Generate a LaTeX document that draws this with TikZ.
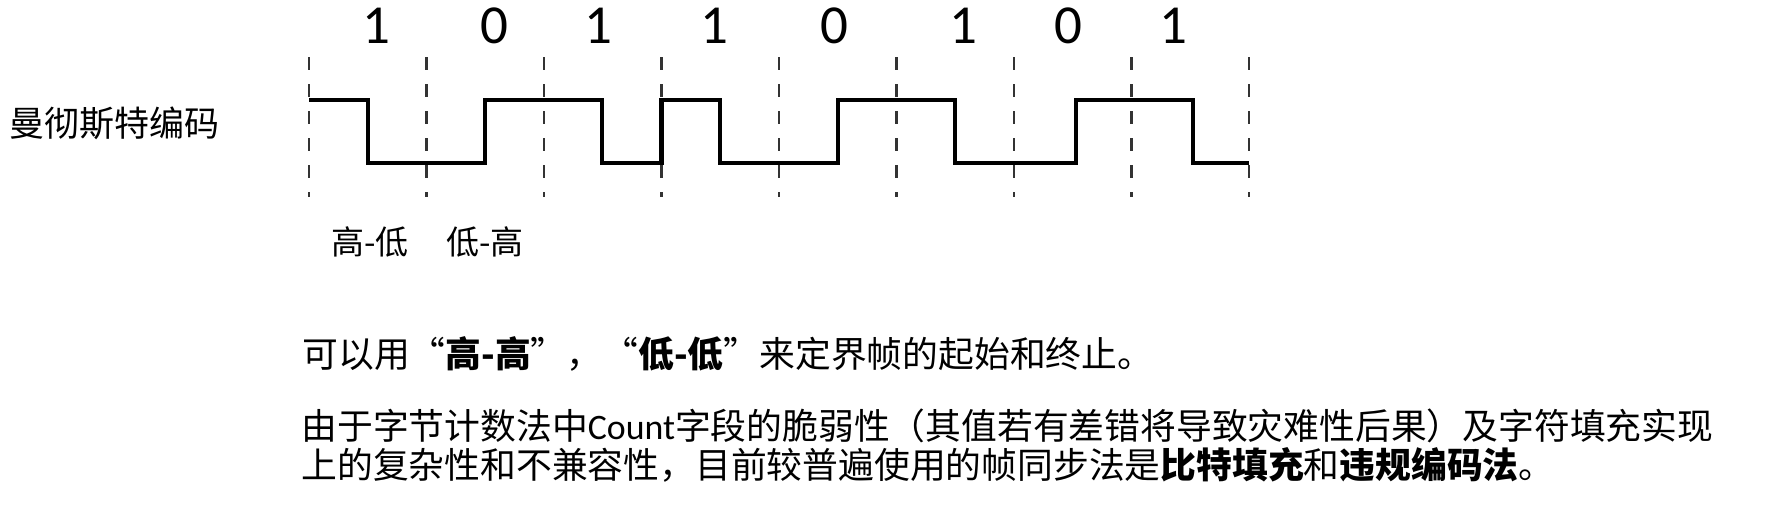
\documentclass[tikz,border=0pt]{standalone}
\usepackage{fontspec}
\setmainfont{Carlito}
\newfontfamily\cjk{Noto Sans CJK SC}
\begin{document}
\begin{tikzpicture}[x=0.5pt,y=-0.5pt,
  grid/.style={draw=black!80,line width=1.1pt,dash pattern=on 6.5pt off 7pt},
  wave/.style={draw=black,line width=2.2pt,line join=miter},
  bit/.style={anchor=base,inner sep=0pt,font=\fontsize{27.5pt}{30pt}\selectfont},
  lbl/.style={anchor=base west,inner sep=0pt,font=\cjk\fontsize{17.5pt}{20pt}\selectfont},
  sub/.style={anchor=base west,inner sep=0pt,font=\cjk\fontsize{16.5pt}{20pt}\selectfont},
  body/.style={anchor=base west,inner sep=0pt,font=\cjk\fontsize{17.9pt}{20pt}\selectfont}]
\useasboundingbox (0,0) rectangle (1780,516);
% grid lines
\foreach \i/\x in {0/309,1/426.5,2/544,3/661.5,4/779,5/896.5,6/1014,7/1131.5,8/1249}{
  \coordinate (t\i) at (\x,57);
  \coordinate (b\i) at (\x,197);
  \draw[grid] (t\i) -- (b\i);
}
% bit labels
\node[bit] (d1) at (376,43) {1};
\node[bit] (d2) at (494,43) {0};
\node[bit] (d3) at (598,43) {1};
\node[bit] (d4) at (714,43) {1};
\node[bit] (d5) at (834,43) {0};
\node[bit] (d6) at (963,43) {1};
\node[bit] (d7) at (1068,43) {0};
\node[bit] (d8) at (1173,43) {1};
% waveform
\draw[wave] (309,100) -- (368,100) -- (368,163) -- (485,163) -- (485,100)
  -- (602,100) -- (602,163) -- (661.5,163) -- (661.5,100) -- (720,100)
  -- (720,163) -- (838,163) -- (838,100) -- (955,100) -- (955,163)
  -- (1076,163) -- (1076,100) -- (1193,100) -- (1193,163) -- (1249,163);
% labels
\node[lbl] (title) at (9,136) {曼彻斯特编码};
\node[sub] (hl) at (331,254) {高-低};
\node[sub] (lh) at (446,254) {低-高};
\node[body] (l1) at (302,367) {可以用“\textbf{高-高}”，“\textbf{低-低}”来定界帧的起始和终止。};
\node[body] (l2) at (301,439) {由于字节计数法中{\fontspec{Carlito}Count}字段的脆弱性（其值若有差错将导致灾难性后果）及字符填充实现};
\node[body] (l3) at (301,478) {上的复杂性和不兼容性，目前较普遍使用的帧同步法是\textbf{比特填充}和\textbf{违规编码法}。};
\end{tikzpicture}
\end{document}
